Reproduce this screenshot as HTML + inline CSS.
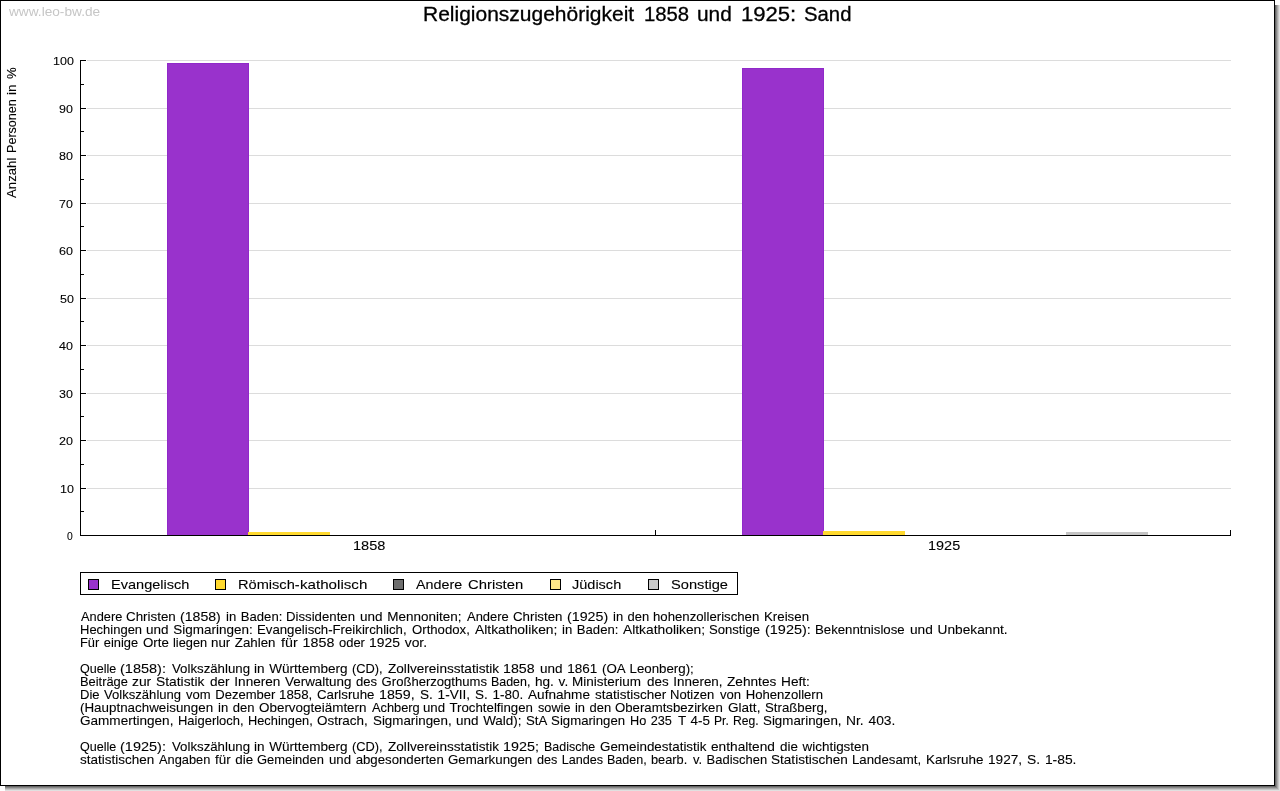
<!DOCTYPE html>
<html lang="de">
<head>
<meta charset="utf-8">
<title>Religionszugehörigkeit 1858 und 1925: Sand</title>
<style>
html,body{margin:0;padding:0;background:#fff;}
body{width:1280px;height:791px;position:relative;overflow:hidden;font-family:"Liberation Sans",sans-serif;color:#000;}
.a{position:absolute;}
.t{position:absolute;white-space:nowrap;line-height:1;transform-origin:0 0;}
#txt{position:absolute;left:0;top:0;width:1280px;height:791px;filter:grayscale(1);will-change:transform;}
.sh{position:absolute;}
.frame{position:absolute;left:0;top:0;width:1273px;height:784px;border:1px solid #000;background:#fff;}
.grid{position:absolute;left:87px;width:1144px;height:1px;background:#dcdcdc;}
.tk{position:absolute;left:80px;width:6px;height:1px;background:#000;}
.tm{position:absolute;left:80px;width:4px;height:1px;background:#000;}
.bar{position:absolute;box-sizing:border-box;}
.sw{position:absolute;top:579px;width:9px;height:9px;border:1px solid #000;}
</style>
</head>
<body>
<div class="sh" style="left:1275px;top:5px;width:1px;height:781px;background:#666666"></div><div class="sh" style="left:5px;top:786px;width:1271px;height:1px;background:#666666"></div><div class="sh" style="left:1276px;top:5px;width:1px;height:782px;background:#888888"></div><div class="sh" style="left:5px;top:787px;width:1272px;height:1px;background:#888888"></div><div class="sh" style="left:1277px;top:5px;width:1px;height:783px;background:#a8a8a8"></div><div class="sh" style="left:5px;top:788px;width:1273px;height:1px;background:#a8a8a8"></div><div class="sh" style="left:1278px;top:5px;width:1px;height:784px;background:#c6c6c6"></div><div class="sh" style="left:5px;top:789px;width:1274px;height:1px;background:#c6c6c6"></div><div class="sh" style="left:1279px;top:5px;width:1px;height:785px;background:#e0e0e0"></div><div class="sh" style="left:5px;top:790px;width:1275px;height:1px;background:#e0e0e0"></div><div class="frame"></div>
<div class="grid" style="top:488px"></div><div class="grid" style="top:440px"></div><div class="grid" style="top:393px"></div><div class="grid" style="top:345px"></div><div class="grid" style="top:298px"></div><div class="grid" style="top:250px"></div><div class="grid" style="top:203px"></div><div class="grid" style="top:155px"></div><div class="grid" style="top:108px"></div><div class="grid" style="top:60px"></div>
<div class="bar" style="left:167px;top:63px;width:82px;height:472px;background:#9932cc;border:1px solid #9029c9;border-bottom:0"></div><div class="bar" style="left:248px;top:532px;width:82px;height:3px;background:#ffd92f;border:1px solid #ffd92f;border-bottom:0"></div><div class="bar" style="left:742px;top:68px;width:82px;height:467px;background:#9932cc;border:1px solid #9029c9;border-bottom:0"></div><div class="bar" style="left:823px;top:531px;width:82px;height:4px;background:#ffd92f;border:1px solid #ffd92f;border-bottom:0"></div><div class="bar" style="left:1066px;top:532px;width:82px;height:3px;background:#c4c4c4;border:1px solid #c4c4c4;border-bottom:0"></div>
<div class="a" style="left:80px;top:60px;width:1px;height:476px;background:#000"></div><div class="a" style="left:80px;top:535px;width:1151px;height:1px;background:#000"></div><div class="tk" style="top:535px"></div><div class="tk" style="top:488px"></div><div class="tk" style="top:440px"></div><div class="tk" style="top:393px"></div><div class="tk" style="top:345px"></div><div class="tk" style="top:298px"></div><div class="tk" style="top:250px"></div><div class="tk" style="top:203px"></div><div class="tk" style="top:155px"></div><div class="tk" style="top:108px"></div><div class="tk" style="top:60px"></div><div class="tm" style="top:511px"></div><div class="tm" style="top:464px"></div><div class="tm" style="top:416px"></div><div class="tm" style="top:369px"></div><div class="tm" style="top:321px"></div><div class="tm" style="top:274px"></div><div class="tm" style="top:226px"></div><div class="tm" style="top:179px"></div><div class="tm" style="top:131px"></div><div class="tm" style="top:84px"></div><div class="a" style="left:655px;top:530px;width:1px;height:6px;background:#000"></div><div class="a" style="left:1230px;top:530px;width:1px;height:6px;background:#000"></div>
<div class="a" style="left:80px;top:572px;width:656px;height:21px;border:1px solid #000;background:#fff"></div><div class="sw" style="left:88px;background:#9932cc"></div><div class="sw" style="left:215px;background:#ffd92f"></div><div class="sw" style="left:393px;background:#6e6e6e"></div><div class="sw" style="left:550px;background:#ffe888"></div><div class="sw" style="left:648px;background:#c8c8c8"></div>
<div id="txt">
<div class="t" style="left:422.76px;top:5px;font-size:19.5px;color:#000;transform:scaleX(1.0763);-webkit-text-stroke:0.3px #000">Religionszugehörigkeit</div>
<div class="t" style="left:644.00px;top:5px;font-size:19.5px;color:#000;transform:scaleX(1.0408);-webkit-text-stroke:0.3px #000">1858</div>
<div class="t" style="left:697.20px;top:5px;font-size:19.5px;color:#000;transform:scaleX(1.0699);-webkit-text-stroke:0.3px #000">und</div>
<div class="t" style="left:740.98px;top:5px;font-size:19.5px;color:#000;transform:scaleX(1.1322);-webkit-text-stroke:0.3px #000">1925:</div>
<div class="t" style="left:803.68px;top:5px;font-size:19.5px;color:#000;transform:scaleX(1.0415);-webkit-text-stroke:0.3px #000">Sand</div>
<div class="t" style="left:9.00px;top:5px;font-size:13.5px;color:#c6c6c6;transform:scaleX(1.0120)">www.leo-bw.de</div>
<div class="t" style="left:66.90px;top:531px;font-size:11.2px;color:#000;transform:scaleX(0.9236);-webkit-text-stroke:0.1px #000">0</div>
<div class="t" style="left:59.60px;top:484px;font-size:11.2px;color:#000;transform:scaleX(1.1175);-webkit-text-stroke:0.1px #000">10</div>
<div class="t" style="left:59.40px;top:436px;font-size:11.2px;color:#000;transform:scaleX(1.1189);-webkit-text-stroke:0.1px #000">20</div>
<div class="t" style="left:58.85px;top:389px;font-size:11.2px;color:#000;transform:scaleX(1.1141);-webkit-text-stroke:0.1px #000">30</div>
<div class="t" style="left:59.00px;top:341px;font-size:11.2px;color:#000;transform:scaleX(1.1183);-webkit-text-stroke:0.1px #000">40</div>
<div class="t" style="left:59.81px;top:294px;font-size:11.2px;color:#000;transform:scaleX(1.1151);-webkit-text-stroke:0.1px #000">50</div>
<div class="t" style="left:58.80px;top:246px;font-size:11.2px;color:#000;transform:scaleX(1.1194);-webkit-text-stroke:0.1px #000">60</div>
<div class="t" style="left:59.39px;top:199px;font-size:11.2px;color:#000;transform:scaleX(1.1105);-webkit-text-stroke:0.1px #000">70</div>
<div class="t" style="left:58.97px;top:151px;font-size:11.2px;color:#000;transform:scaleX(1.1190);-webkit-text-stroke:0.1px #000">80</div>
<div class="t" style="left:59.01px;top:104px;font-size:11.2px;color:#000;transform:scaleX(1.1110);-webkit-text-stroke:0.1px #000">90</div>
<div class="t" style="left:53.07px;top:56px;font-size:11.2px;color:#000;transform:scaleX(1.1151);-webkit-text-stroke:0.1px #000">100</div>
<div class="t" style="left:353.08px;top:540px;font-size:12.5px;color:#000;transform:scaleX(1.1648);-webkit-text-stroke:0.1px #000">1858</div>
<div class="t" style="left:927.90px;top:540px;font-size:12.5px;color:#000;transform:scaleX(1.1568);-webkit-text-stroke:0.1px #000">1925</div>
<div class="t" style="left:110.50px;top:578px;font-size:13px;color:#000;transform:scaleX(1.1186);-webkit-text-stroke:0.1px #000">Evangelisch</div>
<div class="t" style="left:237.60px;top:578px;font-size:13px;color:#000;transform:scaleX(1.1227);-webkit-text-stroke:0.1px #000">Römisch-</div>
<div class="t" style="left:299.70px;top:578px;font-size:13px;color:#000;transform:scaleX(1.1644);-webkit-text-stroke:0.1px #000">katholisch</div>
<div class="t" style="left:416.48px;top:578px;font-size:13px;color:#000;transform:scaleX(1.1019);-webkit-text-stroke:0.1px #000">Andere</div>
<div class="t" style="left:467.71px;top:578px;font-size:13px;color:#000;transform:scaleX(1.1410);-webkit-text-stroke:0.1px #000">Christen</div>
<div class="t" style="left:572.49px;top:578px;font-size:13px;color:#000;transform:scaleX(1.1161);-webkit-text-stroke:0.1px #000">Jüdisch</div>
<div class="t" style="left:670.75px;top:578px;font-size:13px;color:#000;transform:scaleX(1.1269);-webkit-text-stroke:0.1px #000">Sonstige</div>
<div class="t" style="left:80.60px;top:610px;font-size:13px;color:#000;transform:scaleX(0.9842);-webkit-text-stroke:0.1px #000">Andere</div>
<div class="t" style="left:126.30px;top:610px;font-size:13px;color:#000;transform:scaleX(1.0280);-webkit-text-stroke:0.1px #000">Christen</div>
<div class="t" style="left:180.27px;top:610px;font-size:13px;color:#000;transform:scaleX(1.0858);-webkit-text-stroke:0.1px #000">(1858)</div>
<div class="t" style="left:226.40px;top:610px;font-size:13px;color:#000;transform:scaleX(1.0092);word-spacing:0.9px;-webkit-text-stroke:0.1px #000">in Baden:</div>
<div class="t" style="left:285.90px;top:610px;font-size:13px;color:#000;transform:scaleX(1.0160);-webkit-text-stroke:0.1px #000">Dissidenten</div>
<div class="t" style="left:359.93px;top:610px;font-size:13px;color:#000;transform:scaleX(1.0375);word-spacing:0.9px;-webkit-text-stroke:0.1px #000">und Mennoniten;</div>
<div class="t" style="left:467.00px;top:610px;font-size:13px;color:#000;transform:scaleX(0.9972);-webkit-text-stroke:0.1px #000">Andere</div>
<div class="t" style="left:513.30px;top:610px;font-size:13px;color:#000;transform:scaleX(1.0223);-webkit-text-stroke:0.1px #000">Christen</div>
<div class="t" style="left:566.93px;top:610px;font-size:13px;color:#000;transform:scaleX(1.0953);-webkit-text-stroke:0.1px #000">(1925)</div>
<div class="t" style="left:612.76px;top:610px;font-size:13px;color:#000;transform:scaleX(0.9968);word-spacing:0.9px;-webkit-text-stroke:0.1px #000">in den</div>
<div class="t" style="left:653.48px;top:610px;font-size:13px;color:#000;transform:scaleX(1.0137);-webkit-text-stroke:0.1px #000">hohenzollerischen</div>
<div class="t" style="left:764.00px;top:610px;font-size:13px;color:#000;transform:scaleX(1.0213);-webkit-text-stroke:0.1px #000">Kreisen</div>
<div class="t" style="left:79.80px;top:623px;font-size:13px;color:#000;transform:scaleX(0.9990);-webkit-text-stroke:0.1px #000">Hechingen</div>
<div class="t" style="left:145.85px;top:623px;font-size:13px;color:#000;transform:scaleX(1.0372);word-spacing:0.9px;-webkit-text-stroke:0.1px #000">und Sigmaringen:</div>
<div class="t" style="left:257.00px;top:623px;font-size:13px;color:#000;transform:scaleX(1.0152);-webkit-text-stroke:0.1px #000">Evangelisch-Freikirchlich,</div>
<div class="t" style="left:411.75px;top:623px;font-size:13px;color:#000;transform:scaleX(1.0130);-webkit-text-stroke:0.1px #000">Orthodox,</div>
<div class="t" style="left:475.10px;top:623px;font-size:13px;color:#000;transform:scaleX(1.0656);-webkit-text-stroke:0.1px #000">Altkatholiken;</div>
<div class="t" style="left:561.64px;top:623px;font-size:13px;color:#000;transform:scaleX(1.0109);word-spacing:0.9px;-webkit-text-stroke:0.1px #000">in Baden:</div>
<div class="t" style="left:623.30px;top:623px;font-size:13px;color:#000;transform:scaleX(1.0619);-webkit-text-stroke:0.1px #000">Altkatholiken;</div>
<div class="t" style="left:708.80px;top:623px;font-size:13px;color:#000;transform:scaleX(1.0072);-webkit-text-stroke:0.1px #000">Sonstige</div>
<div class="t" style="left:765.20px;top:623px;font-size:13px;color:#000;transform:scaleX(1.1116);-webkit-text-stroke:0.1px #000">(1925):</div>
<div class="t" style="left:815.00px;top:623px;font-size:13px;color:#000;transform:scaleX(1.0164);-webkit-text-stroke:0.1px #000">Bekenntnislose</div>
<div class="t" style="left:909.72px;top:623px;font-size:13px;color:#000;transform:scaleX(1.0536);word-spacing:0.9px;-webkit-text-stroke:0.1px #000">und Unbekannt.</div>
<div class="t" style="left:79.80px;top:636px;font-size:13px;color:#000;transform:scaleX(0.9886);word-spacing:0.9px;-webkit-text-stroke:0.1px #000">Für einige</div>
<div class="t" style="left:143.00px;top:636px;font-size:13px;color:#000;transform:scaleX(1.0237);-webkit-text-stroke:0.1px #000">Orte</div>
<div class="t" style="left:173.08px;top:636px;font-size:13px;color:#000;transform:scaleX(0.9845);-webkit-text-stroke:0.1px #000">liegen</div>
<div class="t" style="left:211.49px;top:636px;font-size:13px;color:#000;transform:scaleX(1.0228);word-spacing:0.9px;-webkit-text-stroke:0.1px #000">nur Zahlen</div>
<div class="t" style="left:281.30px;top:636px;font-size:13px;color:#000;transform:scaleX(1.0976);word-spacing:0.9px;-webkit-text-stroke:0.1px #000">für 1858</div>
<div class="t" style="left:338.62px;top:636px;font-size:13px;color:#000;transform:scaleX(0.9957);-webkit-text-stroke:0.1px #000">oder</div>
<div class="t" style="left:369.00px;top:636px;font-size:13px;color:#000;transform:scaleX(1.0678);word-spacing:0.9px;-webkit-text-stroke:0.1px #000">1925 vor.</div>
<div class="t" style="left:79.58px;top:662px;font-size:13px;color:#000;transform:scaleX(0.9646);-webkit-text-stroke:0.1px #000">Quelle</div>
<div class="t" style="left:120.45px;top:662px;font-size:13px;color:#000;transform:scaleX(1.1159);-webkit-text-stroke:0.1px #000">(1858):</div>
<div class="t" style="left:172.20px;top:662px;font-size:13px;color:#000;transform:scaleX(1.0182);-webkit-text-stroke:0.1px #000">Volkszählung</div>
<div class="t" style="left:253.69px;top:662px;font-size:13px;color:#000;transform:scaleX(1.0427);word-spacing:0.9px;-webkit-text-stroke:0.1px #000">in Württemberg</div>
<div class="t" style="left:352.36px;top:662px;font-size:13px;color:#000;transform:scaleX(0.9871);-webkit-text-stroke:0.1px #000">(CD),</div>
<div class="t" style="left:388.20px;top:662px;font-size:13px;color:#000;transform:scaleX(1.0460);-webkit-text-stroke:0.1px #000">Zollvereinsstatistik</div>
<div class="t" style="left:503.00px;top:662px;font-size:13px;color:#000;transform:scaleX(1.0918);-webkit-text-stroke:0.1px #000">1858</div>
<div class="t" style="left:539.75px;top:662px;font-size:13px;color:#000;transform:scaleX(1.0380);word-spacing:0.9px;-webkit-text-stroke:0.1px #000">und 1861</div>
<div class="t" style="left:601.52px;top:662px;font-size:13px;color:#000;transform:scaleX(1.0224);word-spacing:0.9px;-webkit-text-stroke:0.1px #000">(OA Leonberg);</div>
<div class="t" style="left:79.80px;top:675px;font-size:13px;color:#000;transform:scaleX(0.9900);-webkit-text-stroke:0.1px #000">Beiträge</div>
<div class="t" style="left:132.41px;top:675px;font-size:13px;color:#000;transform:scaleX(1.0634);word-spacing:0.9px;-webkit-text-stroke:0.1px #000">zur Statistik</div>
<div class="t" style="left:210.20px;top:675px;font-size:13px;color:#000;transform:scaleX(1.0445);word-spacing:0.9px;-webkit-text-stroke:0.1px #000">der Inneren</div>
<div class="t" style="left:285.30px;top:675px;font-size:13px;color:#000;transform:scaleX(1.0315);-webkit-text-stroke:0.1px #000">Verwaltung</div>
<div class="t" style="left:356.30px;top:675px;font-size:13px;color:#000;transform:scaleX(1.0056);word-spacing:0.9px;-webkit-text-stroke:0.1px #000">des Großherzogthums</div>
<div class="t" style="left:490.60px;top:675px;font-size:13px;color:#000;transform:scaleX(0.9559);-webkit-text-stroke:0.1px #000">Baden,</div>
<div class="t" style="left:534.61px;top:675px;font-size:13px;color:#000;transform:scaleX(1.0457);word-spacing:0.9px;-webkit-text-stroke:0.1px #000">hg. v.</div>
<div class="t" style="left:572.20px;top:675px;font-size:13px;color:#000;transform:scaleX(1.0385);-webkit-text-stroke:0.1px #000">Ministerium</div>
<div class="t" style="left:647.10px;top:675px;font-size:13px;color:#000;transform:scaleX(1.0324);word-spacing:0.9px;-webkit-text-stroke:0.1px #000">des Inneren,</div>
<div class="t" style="left:727.08px;top:675px;font-size:13px;color:#000;transform:scaleX(1.0499);word-spacing:0.9px;-webkit-text-stroke:0.1px #000">Zehntes Heft:</div>
<div class="t" style="left:79.80px;top:688px;font-size:13px;color:#000;transform:scaleX(1.0044);word-spacing:0.9px;-webkit-text-stroke:0.1px #000">Die Volkszählung</div>
<div class="t" style="left:186.20px;top:688px;font-size:13px;color:#000;transform:scaleX(1.0048);word-spacing:0.9px;-webkit-text-stroke:0.1px #000">vom Dezember</div>
<div class="t" style="left:279.40px;top:688px;font-size:13px;color:#000;transform:scaleX(1.0204);-webkit-text-stroke:0.1px #000">1858,</div>
<div class="t" style="left:317.30px;top:688px;font-size:13px;color:#000;transform:scaleX(1.0203);-webkit-text-stroke:0.1px #000">Carlsruhe</div>
<div class="t" style="left:379.20px;top:688px;font-size:13px;color:#000;transform:scaleX(1.0960);-webkit-text-stroke:0.1px #000">1859,</div>
<div class="t" style="left:420.28px;top:688px;font-size:13px;color:#000;transform:scaleX(1.0464);word-spacing:0.9px;-webkit-text-stroke:0.1px #000">S. 1-VII,</div>
<div class="t" style="left:474.69px;top:688px;font-size:13px;color:#000;transform:scaleX(1.0385);word-spacing:0.9px;-webkit-text-stroke:0.1px #000">S. 1-80.</div>
<div class="t" style="left:528.40px;top:688px;font-size:13px;color:#000;transform:scaleX(1.0459);-webkit-text-stroke:0.1px #000">Aufnahme</div>
<div class="t" style="left:594.58px;top:688px;font-size:13px;color:#000;transform:scaleX(1.0363);-webkit-text-stroke:0.1px #000">statistischer</div>
<div class="t" style="left:669.80px;top:688px;font-size:13px;color:#000;transform:scaleX(1.0023);-webkit-text-stroke:0.1px #000">Notizen</div>
<div class="t" style="left:719.60px;top:688px;font-size:13px;color:#000;transform:scaleX(1.0093);word-spacing:0.9px;-webkit-text-stroke:0.1px #000">von Hohenzollern</div>
<div class="t" style="left:80.05px;top:701px;font-size:13px;color:#000;transform:scaleX(1.0286);-webkit-text-stroke:0.1px #000">(Hauptnachweisungen</div>
<div class="t" style="left:217.66px;top:701px;font-size:13px;color:#000;transform:scaleX(1.0041);word-spacing:0.9px;-webkit-text-stroke:0.1px #000">in den</div>
<div class="t" style="left:259.30px;top:701px;font-size:13px;color:#000;transform:scaleX(1.0335);-webkit-text-stroke:0.1px #000">Obervogteiämtern</div>
<div class="t" style="left:371.50px;top:701px;font-size:13px;color:#000;transform:scaleX(0.9862);-webkit-text-stroke:0.1px #000">Achberg</div>
<div class="t" style="left:422.54px;top:701px;font-size:13px;color:#000;transform:scaleX(1.0194);word-spacing:0.9px;-webkit-text-stroke:0.1px #000">und Trochtelfingen</div>
<div class="t" style="left:538.32px;top:701px;font-size:13px;color:#000;transform:scaleX(0.9775);-webkit-text-stroke:0.1px #000">sowie</div>
<div class="t" style="left:575.40px;top:701px;font-size:13px;color:#000;transform:scaleX(0.9943);word-spacing:0.9px;-webkit-text-stroke:0.1px #000">in den</div>
<div class="t" style="left:615.34px;top:701px;font-size:13px;color:#000;transform:scaleX(1.0143);-webkit-text-stroke:0.1px #000">Oberamtsbezirken</div>
<div class="t" style="left:728.30px;top:701px;font-size:13px;color:#000;transform:scaleX(1.0428);-webkit-text-stroke:0.1px #000">Glatt,</div>
<div class="t" style="left:764.77px;top:701px;font-size:13px;color:#000;transform:scaleX(1.0179);-webkit-text-stroke:0.1px #000">Straßberg,</div>
<div class="t" style="left:80.36px;top:714px;font-size:13px;color:#000;transform:scaleX(1.0425);-webkit-text-stroke:0.1px #000">Gammertingen,</div>
<div class="t" style="left:178.10px;top:714px;font-size:13px;color:#000;transform:scaleX(0.9976);-webkit-text-stroke:0.1px #000">Haigerloch,</div>
<div class="t" style="left:247.60px;top:714px;font-size:13px;color:#000;transform:scaleX(0.9846);-webkit-text-stroke:0.1px #000">Hechingen,</div>
<div class="t" style="left:317.34px;top:714px;font-size:13px;color:#000;transform:scaleX(1.0329);-webkit-text-stroke:0.1px #000">Ostrach,</div>
<div class="t" style="left:372.92px;top:714px;font-size:13px;color:#000;transform:scaleX(1.0270);-webkit-text-stroke:0.1px #000">Sigmaringen,</div>
<div class="t" style="left:455.53px;top:714px;font-size:13px;color:#000;transform:scaleX(1.0355);word-spacing:0.9px;-webkit-text-stroke:0.1px #000">und Wald);</div>
<div class="t" style="left:525.90px;top:714px;font-size:13px;color:#000;transform:scaleX(1.0140);word-spacing:0.9px;-webkit-text-stroke:0.1px #000">StA Sigmaringen</div>
<div class="t" style="left:629.90px;top:714px;font-size:13px;color:#000;transform:scaleX(0.9782);word-spacing:0.9px;-webkit-text-stroke:0.1px #000">Ho 235</div>
<div class="t" style="left:677.60px;top:714px;font-size:13px;color:#000;transform:scaleX(1.0321);word-spacing:0.9px;-webkit-text-stroke:0.1px #000">T 4-5</div>
<div class="t" style="left:713.52px;top:714px;font-size:13px;color:#000;transform:scaleX(0.9336);word-spacing:0.9px;-webkit-text-stroke:0.1px #000">Pr. Reg.</div>
<div class="t" style="left:762.92px;top:714px;font-size:13px;color:#000;transform:scaleX(1.0258);-webkit-text-stroke:0.1px #000">Sigmaringen,</div>
<div class="t" style="left:845.64px;top:714px;font-size:13px;color:#000;transform:scaleX(1.0636);word-spacing:0.9px;-webkit-text-stroke:0.1px #000">Nr. 403.</div>
<div class="t" style="left:79.58px;top:740px;font-size:13px;color:#000;transform:scaleX(0.9646);-webkit-text-stroke:0.1px #000">Quelle</div>
<div class="t" style="left:120.45px;top:740px;font-size:13px;color:#000;transform:scaleX(1.1159);-webkit-text-stroke:0.1px #000">(1925):</div>
<div class="t" style="left:172.20px;top:740px;font-size:13px;color:#000;transform:scaleX(1.0182);-webkit-text-stroke:0.1px #000">Volkszählung</div>
<div class="t" style="left:253.69px;top:740px;font-size:13px;color:#000;transform:scaleX(1.0427);word-spacing:0.9px;-webkit-text-stroke:0.1px #000">in Württemberg</div>
<div class="t" style="left:352.36px;top:740px;font-size:13px;color:#000;transform:scaleX(0.9871);-webkit-text-stroke:0.1px #000">(CD),</div>
<div class="t" style="left:388.20px;top:740px;font-size:13px;color:#000;transform:scaleX(1.0460);-webkit-text-stroke:0.1px #000">Zollvereinsstatistik</div>
<div class="t" style="left:503.00px;top:740px;font-size:13px;color:#000;transform:scaleX(1.1041);-webkit-text-stroke:0.1px #000">1925;</div>
<div class="t" style="left:543.80px;top:740px;font-size:13px;color:#000;transform:scaleX(0.9588);-webkit-text-stroke:0.1px #000">Badische</div>
<div class="t" style="left:600.08px;top:740px;font-size:13px;color:#000;transform:scaleX(1.0303);-webkit-text-stroke:0.1px #000">Gemeindestatistik</div>
<div class="t" style="left:710.58px;top:740px;font-size:13px;color:#000;transform:scaleX(1.0531);-webkit-text-stroke:0.1px #000">enthaltend</div>
<div class="t" style="left:780.02px;top:740px;font-size:13px;color:#000;transform:scaleX(1.0329);word-spacing:0.9px;-webkit-text-stroke:0.1px #000">die wichtigsten</div>
<div class="t" style="left:79.57px;top:753px;font-size:13px;color:#000;transform:scaleX(1.0362);-webkit-text-stroke:0.1px #000">statistischen</div>
<div class="t" style="left:159.40px;top:753px;font-size:13px;color:#000;transform:scaleX(0.9865);-webkit-text-stroke:0.1px #000">Angaben</div>
<div class="t" style="left:215.20px;top:753px;font-size:13px;color:#000;transform:scaleX(1.0279);word-spacing:0.9px;-webkit-text-stroke:0.1px #000">für die</div>
<div class="t" style="left:257.11px;top:753px;font-size:13px;color:#000;transform:scaleX(0.9955);-webkit-text-stroke:0.1px #000">Gemeinden</div>
<div class="t" style="left:328.72px;top:753px;font-size:13px;color:#000;transform:scaleX(1.0166);word-spacing:0.9px;-webkit-text-stroke:0.1px #000">und abgesonderten</div>
<div class="t" style="left:447.69px;top:753px;font-size:13px;color:#000;transform:scaleX(1.0220);-webkit-text-stroke:0.1px #000">Gemarkungen</div>
<div class="t" style="left:537.39px;top:753px;font-size:13px;color:#000;transform:scaleX(0.9706);word-spacing:0.9px;-webkit-text-stroke:0.1px #000">des Landes</div>
<div class="t" style="left:607.00px;top:753px;font-size:13px;color:#000;transform:scaleX(0.9647);-webkit-text-stroke:0.1px #000">Baden,</div>
<div class="t" style="left:651.35px;top:753px;font-size:13px;color:#000;transform:scaleX(0.9837);-webkit-text-stroke:0.1px #000">bearb.</div>
<div class="t" style="left:692.80px;top:753px;font-size:13px;color:#000;transform:scaleX(0.9965);word-spacing:0.9px;-webkit-text-stroke:0.1px #000">v. Badischen</div>
<div class="t" style="left:770.92px;top:753px;font-size:13px;color:#000;transform:scaleX(1.0433);-webkit-text-stroke:0.1px #000">Statistischen</div>
<div class="t" style="left:852.00px;top:753px;font-size:13px;color:#000;transform:scaleX(1.0173);-webkit-text-stroke:0.1px #000">Landesamt,</div>
<div class="t" style="left:926.10px;top:753px;font-size:13px;color:#000;transform:scaleX(1.0324);-webkit-text-stroke:0.1px #000">Karlsruhe</div>
<div class="t" style="left:987.60px;top:753px;font-size:13px;color:#000;transform:scaleX(1.0474);-webkit-text-stroke:0.1px #000">1927,</div>
<div class="t" style="left:1026.69px;top:753px;font-size:13px;color:#000;transform:scaleX(1.0649);word-spacing:0.9px;-webkit-text-stroke:0.1px #000">S. 1-85.</div>
<div class="t" style="left:5px;top:197.76px;font-size:13px;-webkit-text-stroke:0.1px #000;transform:rotate(-90deg) scaleX(1.0151)">Anzahl</div>
<div class="t" style="left:5px;top:153.00px;font-size:13px;-webkit-text-stroke:0.1px #000;transform:rotate(-90deg) scaleX(0.9677)">Personen</div>
<div class="t" style="left:5px;top:95.05px;font-size:13px;-webkit-text-stroke:0.1px #000;transform:rotate(-90deg) scaleX(1.0321)">in</div>
<div class="t" style="left:5px;top:79.13px;font-size:13px;-webkit-text-stroke:0.1px #000;transform:rotate(-90deg) scaleX(1.0206)">%</div>
</div>
</body>
</html>
